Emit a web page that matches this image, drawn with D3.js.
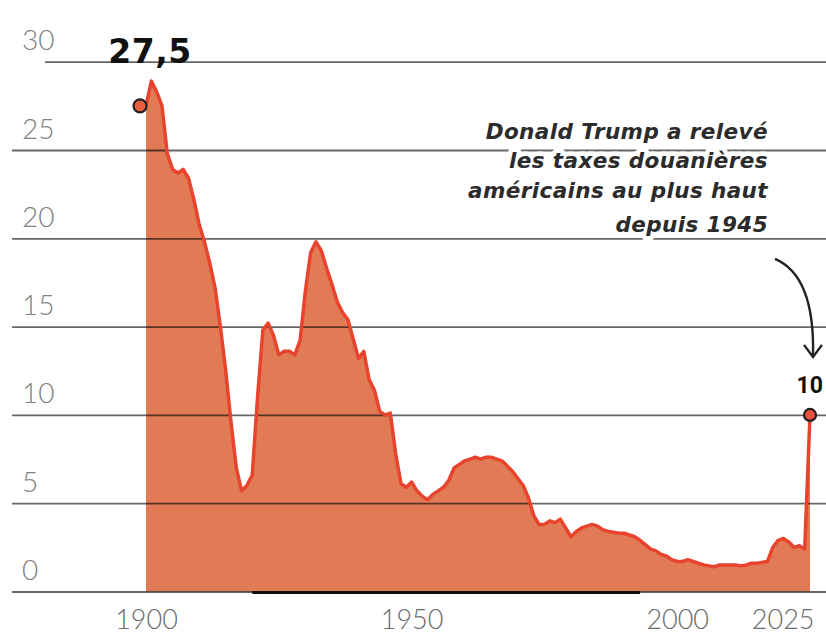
<!DOCTYPE html>
<html><head><meta charset="utf-8">
<script src="https://cdn.jsdelivr.net/npm/d3@7"></script>
<style>body{margin:0;background:#fff}svg{display:block}</style>
</head><body>
<svg id="chart" width="826" height="636"></svg>
<script>
// ---- data ----
const firstYear = 1900;
const tariffRate = [
  27.5, 28.9, 28.3, 27.5, 24.8, 23.9, 23.7, 23.9, 23.4, 22.2,   // 1900s
  20.8, 19.8, 18.6, 17.2, 15.0, 12.5, 9.6, 7.0, 5.7, 6.0,        // 1910s
  6.6, 11.0, 14.8, 15.2, 14.5, 13.4, 13.6, 13.6, 13.4, 14.2,     // 1920s
  17.0, 19.2, 19.8, 19.3, 18.3, 17.4, 16.4, 15.8, 15.4, 14.3,    // 1930s
  13.2, 13.6, 12.0, 11.4, 10.2, 10.0, 10.1, 7.8, 6.1, 5.9,       // 1940s
  6.2, 5.7, 5.4, 5.2, 5.5, 5.7, 5.9, 6.3, 7.0, 7.2,              // 1950s
  7.4, 7.5, 7.6, 7.5, 7.6, 7.6, 7.5, 7.4, 7.1, 6.8,              // 1960s
  6.4, 6.0, 5.3, 4.3, 3.8, 3.8, 4.0, 3.9, 4.1, 3.6,              // 1970s
  3.1, 3.4, 3.6, 3.7, 3.8, 3.7, 3.5, 3.4, 3.35, 3.3,             // 1980s
  3.3, 3.2, 3.1, 2.9, 2.65, 2.4, 2.3, 2.1, 2.0, 1.8,             // 1990s
  1.7, 1.7, 1.8, 1.7, 1.6, 1.5, 1.45, 1.4, 1.5, 1.5,             // 2000s
  1.5, 1.5, 1.45, 1.5, 1.6, 1.6, 1.65, 1.7, 2.5, 2.9,            // 2010s
  3.0, 2.8, 2.5, 2.6, 2.4, 10.0                                  // 2020s
];
const yTicks = [0, 5, 10, 15, 20, 25, 30];
const xTickLabels = [1900, 1950, 2000, 2025];
const peakLabel = "27,5";
const lastLabel = "10";
const noteLines = ["Donald Trump a relevé", "les taxes douanières", "américains au plus haut", "depuis 1945"];

const data = tariffRate.map((v, i) => ({year: firstYear + i, value: v}));
const first = data[0], last = data[data.length - 1];

// ---- setup ----
const W = 826, H = 636;
const svg = d3.select("#chart");
svg.append("rect").attr("width", W).attr("height", H).attr("fill", "#fff");

const x = d3.scaleLinear().domain([first.year, last.year]).range([146, 810]);
const y = d3.scaleLinear().domain([0, 30]).range([591.5, 61.7]);

const areaColor = "#E07B55", lineColor = "#E8432C";

// area
svg.append("path").datum(data)
  .attr("fill", areaColor)
  .attr("d", d3.area().x(d => x(d.year)).y0(y(0)).y1(d => y(d.value)));

// gridlines + y labels via axis
const gx0 = 12;
const yAxis = svg.append("g").attr("transform", `translate(${gx0},0)`)
  .call(d3.axisRight(y).tickValues(yTicks).tickSize(W - gx0).tickFormat(d => d));
yAxis.select(".domain").remove();
yAxis.selectAll(".tick line")
  .attr("stroke", "#000").attr("stroke-opacity", 0.6).attr("stroke-width", 1.8)
  .attr("x1", d => d === 30 ? 33 : 0);
yAxis.selectAll(".tick text")
  .attr("x", 10).attr("dy", -12).attr("text-anchor", "start")
  .attr("font-family", "Lato, 'Open Sans', sans-serif").attr("font-weight", 300)
  .attr("font-size", 28).attr("fill", "#808080");

// dark baseline segment
svg.append("line")
  .attr("x1", x(1920)).attr("x2", x(1993))
  .attr("y1", y(0) + 1).attr("y2", y(0) + 1)
  .attr("stroke", "#111").attr("stroke-width", 3);

// line
svg.append("path").datum(data)
  .attr("fill", "none").attr("stroke", lineColor).attr("stroke-width", 3.5)
  .attr("stroke-linejoin", "round")
  .attr("d", d3.line().x(d => x(d.year)).y(d => y(d.value)));

// x axis labels
const xAxis = svg.append("g").attr("transform", `translate(0,629)`)
  .call(d3.axisBottom(x).tickValues(xTickLabels).tickSize(0).tickFormat(d3.format("d")));
xAxis.select(".domain").remove();
xAxis.selectAll(".tick text")
  .attr("y", 0).attr("dy", 0)
  .attr("font-family", "Lato, 'Open Sans', sans-serif").attr("font-weight", 300)
  .attr("font-size", 27).attr("fill", "#6a6a6a")
  .attr("text-anchor", d => d === last.year ? "end" : "middle")
  .attr("x", d => d === last.year ? 4 : 0);

// endpoint circles
svg.append("circle")
  .attr("cx", x(first.year) - 6).attr("cy", y(first.value))
  .attr("r", 6.5).attr("fill", "#E8603F").attr("stroke", "#222").attr("stroke-width", 2.2);
svg.append("circle")
  .attr("cx", x(last.year)).attr("cy", y(last.value))
  .attr("r", 6).attr("fill", "#E8503A").attr("stroke", "#222").attr("stroke-width", 2.2);

// value labels
svg.append("text")
  .attr("x", x(first.year) + 4).attr("y", 63)
  .attr("text-anchor", "middle")
  .attr("font-family", "'DejaVu Sans', sans-serif").attr("font-weight", "bold")
  .attr("font-size", 33).attr("letter-spacing", 0.5).attr("fill", "#111")
  .text(peakLabel);
svg.append("text")
  .attr("x", 823).attr("y", 393)
  .attr("text-anchor", "end")
  .attr("font-family", "Roboto, sans-serif").attr("font-weight", 700)
  .attr("font-size", 23).attr("fill", "#111")
  .text(lastLabel);

// annotation
const noteBaselines = [139, 168, 198, 232];
const note = svg.append("g")
  .attr("font-family", "'DejaVu Sans', sans-serif").attr("font-weight", "bold")
  .attr("font-style", "italic").attr("font-size", 21.5).attr("letter-spacing", 0.4)
  .attr("text-anchor", "end");
note.selectAll("text.bg").data(noteLines).join("text").attr("class", "bg")
  .attr("x", 768).attr("y", (d, i) => noteBaselines[i])
  .attr("fill", "#fff").attr("stroke", "#fff").attr("stroke-width", 9)
  .attr("stroke-linejoin", "round")
  .text(d => d);
note.selectAll("text.fg").data(noteLines).join("text").attr("class", "fg")
  .attr("x", 768).attr("y", (d, i) => noteBaselines[i])
  .attr("fill", "#2b2b2b")
  .text(d => d);

// arrow
const tipX = x(last.year) + 3, tipY = y(last.value) - 59;
svg.append("path")
  .attr("d", `M${tipX - 38},${tipY - 97} Q${tipX + 2},${tipY - 80} ${tipX},${tipY}`)
  .attr("fill", "none").attr("stroke", "#222").attr("stroke-width", 2.4);
svg.append("path")
  .attr("d", `M${tipX - 9},${tipY - 11} L${tipX},${tipY + 1} L${tipX + 9},${tipY - 11}`)
  .attr("fill", "none").attr("stroke", "#222").attr("stroke-width", 2.4)
  .attr("stroke-linejoin", "miter");
</script>
</body></html>
